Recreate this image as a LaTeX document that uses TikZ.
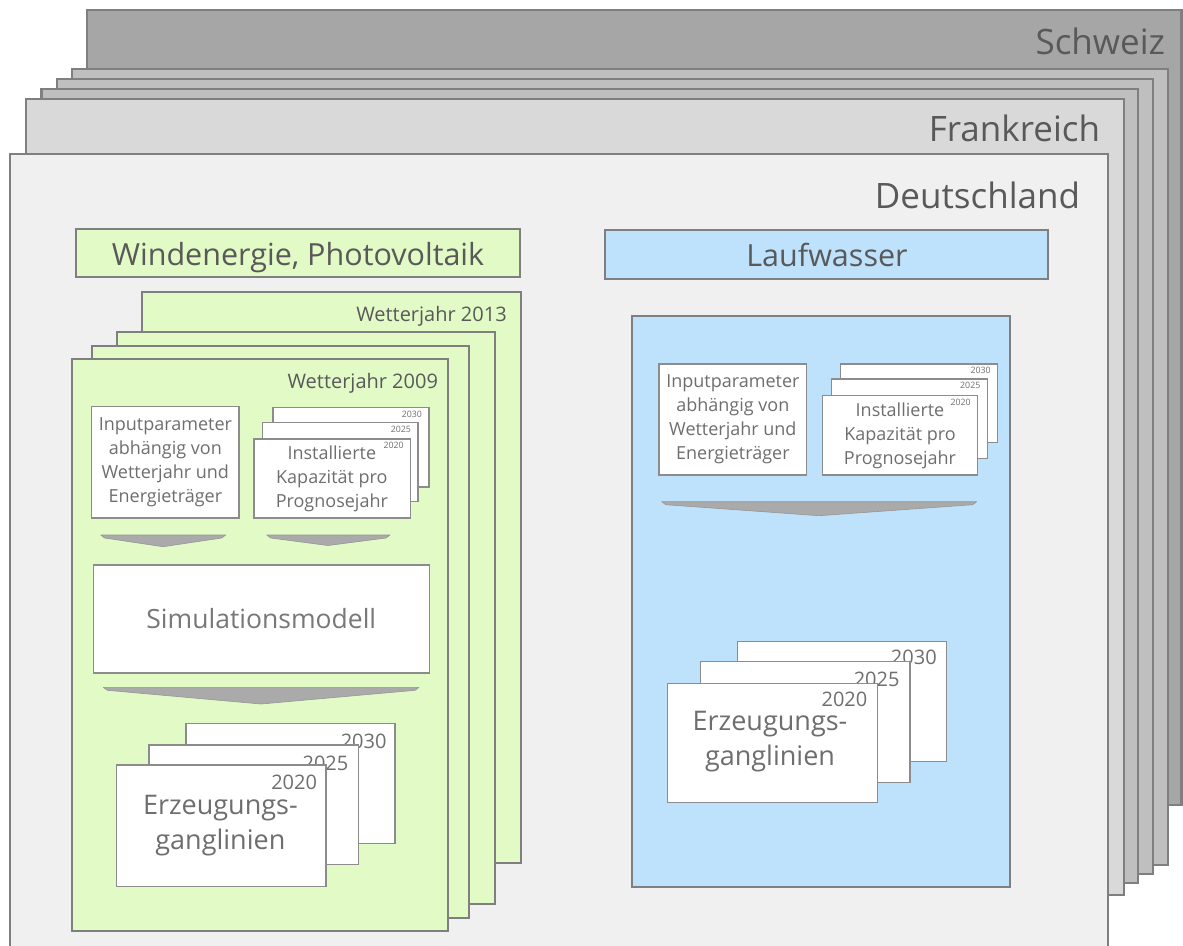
\documentclass[tikz,border=0pt]{standalone}
\usepackage{fontspec}
\setmainfont{Open Sans}
\definecolor{bord}{RGB}{127,127,127}
\definecolor{wbord}{RGB}{140,140,140}
\definecolor{schw}{RGB}{166,166,166}
\definecolor{midl}{RGB}{191,191,191}
\definecolor{frkr}{RGB}{217,217,217}
\definecolor{deut}{RGB}{240,240,240}
\definecolor{grn}{RGB}{226,250,198}
\definecolor{blu}{RGB}{190,226,252}
\definecolor{arrf}{RGB}{170,170,170}
\definecolor{arrd}{RGB}{150,150,150}
\definecolor{txtd}{RGB}{89,89,89}
\definecolor{txtm}{RGB}{110,110,110}
\definecolor{txtl}{RGB}{120,120,120}
\newcommand\mybox[6]{\node[#2, anchor=north west, minimum width={#5-#3}, minimum height={#6-#4}] (#1) at (#3,#4) {};}
\newcommand\chev[5]{\draw[arrowc] (#1,#3) -- (#2,#3) -- ({#2-4},{#3+3}) -- (#5,#4) -- ({#1+4},{#3+3}) -- cycle;}
\begin{document}
\begin{tikzpicture}[x=1pt,y=-1pt,
  every node/.style={outer sep=0pt},
  frame/.style={draw=bord, line width=2.6pt, inner sep=0pt},
  card/.style={draw=bord, line width=2.2pt, fill=grn, inner sep=0pt},
  hdr/.style={draw=bord, line width=2pt, inner sep=0pt},
  wbox/.style={draw=wbord, line width=1.3pt, fill=white, inner sep=0pt},
  arrowc/.style={fill=arrf, draw=arrd, line width=0.6pt, line join=round},
  bigt/.style={text=txtd, font=\fontsize{35}{42}\selectfont, inner sep=0pt},
  hdrt/.style={text=txtd, font=\fontsize{30.5}{36}\selectfont, inner sep=0pt},
  wjt/.style={text=txtd, font=\fontsize{20}{24}\selectfont, inner sep=0pt},
  smt/.style={text=txtm, font=\fontsize{18}{24}\selectfont, inner sep=0pt, align=center},
  simt/.style={text=txtl, font=\fontsize{26.5}{32}\selectfont, inner sep=0pt},
  ergt/.style={text=txtm, font=\fontsize{27}{35.5}\selectfont, inner sep=0pt, align=center},
  yrt/.style={text=txtm, font=\fontsize{20}{24}\selectfont, inner sep=0pt, anchor=east},
  tyt/.style={text=txtm, font=\fontsize{8.8}{10}\selectfont, inner sep=0pt, anchor=east}
]
\clip (0,0) rectangle (1183,945);
% country frames
\mybox{ch}{frame, fill=schw}{87}{10}{1181.5}{805}
\node[bigt, anchor=base east] (tch) at (1165,54) {Schweiz};
\mybox{l2}{frame, fill=midl}{72}{69}{1168}{865}
\mybox{l3}{frame, fill=midl}{57}{79}{1153}{874}
\mybox{l4}{frame, fill=midl}{41.5}{89}{1138}{883}
\mybox{fr}{frame, fill=frkr}{26}{99}{1124}{895}
\node[bigt, anchor=base east] (tfr) at (1100,141) {Frankreich};
\mybox{de}{frame, fill=deut}{10}{154}{1108}{990}
\node[bigt, anchor=base east] (tde) at (1080,208) {Deutschland};
% headers
\mybox{hg}{hdr, fill=grn}{75.5}{228.5}{520}{277}
\node[hdrt, anchor=base] (thg) at (298,265) {Windenergie, Photovoltaik};
\mybox{hb}{hdr, fill=blu}{605}{229.5}{1048}{279}
\node[hdrt, anchor=base] (thb) at (827,266) {Laufwasser};
% green weather-year cards
\mybox{c4}{card}{141.7}{291.7}{520.7}{863}
\node[wjt, anchor=east] (tc4) at (506.7,316) {Wetterjahr 2013};
\mybox{c3}{card}{116.7}{331.7}{495}{904}
\mybox{c2}{card}{92.3}{345.7}{469}{917.7}
\mybox{c1}{card}{71.7}{359}{448}{931}
\node[wjt, anchor=east] (tc1) at (438,383) {Wetterjahr 2009};
% green inputs
\mybox{gin}{wbox}{91.7}{406.7}{239}{518}
\node[smt] (tgin) at (gin.center) {Inputparameter\\abhängig von\\Wetterjahr und\\Energieträger};
\mybox{gk3}{wbox}{273}{407.7}{429}{487}
\node[tyt] (tgk3) at ([xshift=-7pt,yshift=-6.5pt]gk3.north east) {2030};
\mybox{gk2}{wbox}{262.7}{422.7}{418}{501.7}
\node[tyt] (tgk2) at ([xshift=-7pt,yshift=-6.5pt]gk2.north east) {2025};
\mybox{gk1}{wbox}{254}{439}{410.7}{518}
\node[tyt] (tgk1) at ([xshift=-7pt,yshift=-6.5pt]gk1.north east) {2020};
\node[smt] (tgk1b) at ([xshift=-0.5pt]gk1.center) {Installierte\\Kapazität pro\\Prognosejahr};
\chev{100.7}{225.7}{535}{546.7}{163}
\chev{266.7}{390}{535}{545.5}{328}
\mybox{sim}{wbox}{93.3}{565}{429.3}{673}
\node[simt] (tsim) at (sim.center) {Simulationsmodell};
\chev{103.3}{419}{687.3}{704}{261}
\mybox{ge3}{wbox}{186}{723.3}{395}{843.3}
\node[yrt] (tge3) at ([xshift=-8.5pt,yshift=-18pt]ge3.north east) {2030};
\mybox{ge2}{wbox}{149}{745}{358.3}{864.3}
\node[yrt] (tge2) at ([xshift=-10pt,yshift=-18pt]ge2.north east) {2025};
\mybox{ge1}{wbox}{116.7}{765}{326}{886.7}
\node[yrt] (tge1) at ([xshift=-9pt,yshift=-17pt]ge1.north east) {2020};
\node[ergt] (tge1b) at ([xshift=-1pt,yshift=0.5pt]ge1.center) {Erzeugungs-\\ganglinien};
% blue panel
\mybox{bp}{frame, fill=blu, line width=2.2pt}{632}{316}{1010}{887}
\mybox{bin}{wbox}{659}{364}{806.7}{475}
\node[smt] (tbin) at (bin.center) {Inputparameter\\abhängig von\\Wetterjahr und\\Energieträger};
\mybox{bk3}{wbox}{840.7}{364}{997.7}{442.7}
\node[tyt] (tbk3) at ([xshift=-7pt,yshift=-6.5pt]bk3.north east) {2030};
\mybox{bk2}{wbox}{831.7}{379}{987.3}{458.3}
\node[tyt] (tbk2) at ([xshift=-7pt,yshift=-6.5pt]bk2.north east) {2025};
\mybox{bk1}{wbox}{822.3}{395.7}{977.7}{475}
\node[tyt] (tbk1) at ([xshift=-7pt,yshift=-6.5pt]bk1.north east) {2020};
\node[smt] (tbk1b) at (bk1.center) {Installierte\\Kapazität pro\\Prognosejahr};
\chev{661.7}{976.7}{501.7}{515.7}{819}
\mybox{be3}{wbox}{737.3}{641.7}{946.7}{761.7}
\node[yrt] (tbe3) at ([xshift=-10pt,yshift=-16pt]be3.north east) {2030};
\mybox{be2}{wbox}{700.7}{661.7}{910}{782.7}
\node[yrt] (tbe2) at ([xshift=-10.5pt,yshift=-18pt]be2.north east) {2025};
\mybox{be1}{wbox}{667.7}{683.3}{877.3}{802.7}
\node[yrt] (tbe1) at ([xshift=-10pt,yshift=-16pt]be1.north east) {2020};
\node[ergt] (tbe1b) at ([xshift=-2.5pt,yshift=1.5pt]be1.center) {Erzeugungs-\\ganglinien};
\end{tikzpicture}
\end{document}
